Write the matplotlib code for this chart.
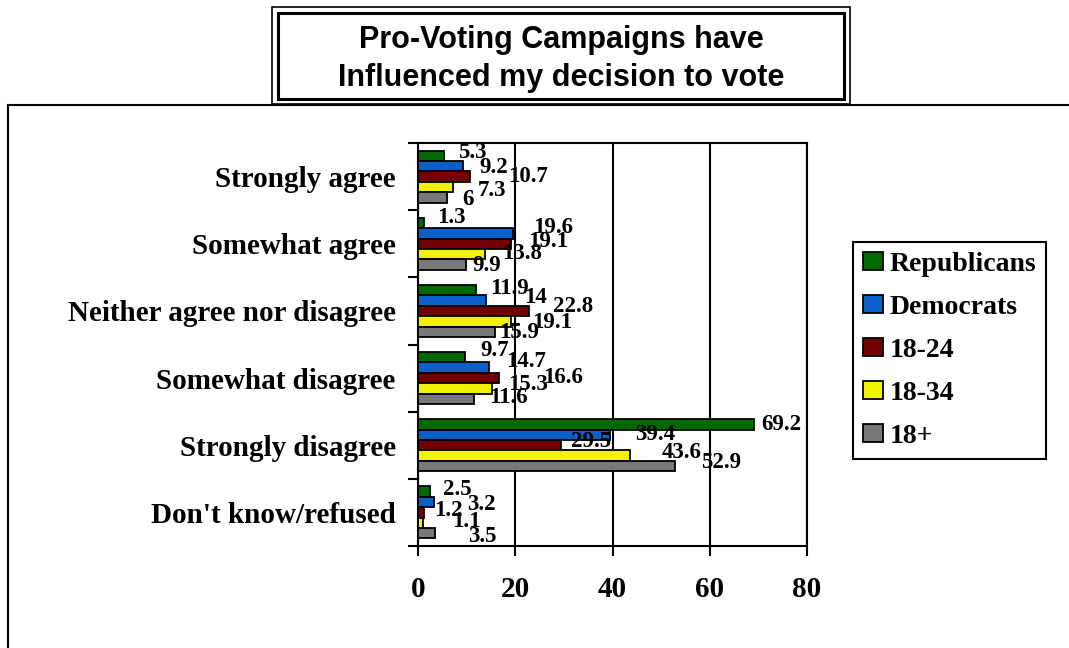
import matplotlib
matplotlib.use('Agg')
import matplotlib.pyplot as plt
from matplotlib.patches import Rectangle, Patch
import numpy as np

# ---------------- data ----------------
categories = ["Strongly agree", "Somewhat agree", "Neither agree nor disagree",
              "Somewhat disagree", "Strongly disagree", "Don't know/refused"]
series_names = ["Republicans", "Democrats", "18-24", "18-34", "18+"]
republicans = [5.3, 1.3, 11.9, 9.7, 69.2, 2.5]
democrats = [9.2, 19.6, 14, 14.7, 39.4, 3.2]
age_18_24 = [10.7, 19.1, 22.8, 16.6, 29.5, 1.2]
age_18_34 = [7.3, 13.8, 19.1, 15.3, 43.6, 1.1]
age_18_plus = [6, 9.9, 15.9, 11.6, 52.9, 3.5]
x_ticks = [0, 20, 40, 60, 80]
title = "Pro-Voting Campaigns have\nInfluenced my decision to vote"

# ---------------- style ----------------
colors = ['#006a00', '#0a5fc8', '#720000', '#f2f200', '#787878']
# label offsets in pixels (dx to the right of bar end, dy downward), [category][series]
label_dx = [[14, 17, 38, 24, 15], [13, 20, 17, 17, 6], [14, 38, 24, 21, 4],
            [15, 17, 44, 16, 15], [7, 26, 10, 32, 26], [13, 34, 10, 29, 33]]
label_dy = [[-1, 3, 2, 6, 4], [-3, -4, 0, 1, 3], [0, -1, -2, 3, 3],
            [-5, -4, 1, -2, 1], [2, 2, -2, -1, -1], [0, 5, 0, 1, 5]]

W, H = 1069, 648
fig = plt.figure(figsize=(W / 100, H / 100), dpi=100)
fig.patch.set_facecolor('white')


def fx(px):
    return px / W


def fy(py):
    return 1 - py / H


serif = 'Liberation Serif'
sans = 'Liberation Sans'

# outer chart frame (clipped by figure edges)
fig.add_artist(Rectangle((fx(8), fy(760)), fx(1200) - fx(8), fy(105) - fy(760),
                         transform=fig.transFigure, fill=False, lw=1.5, ec='black'))

# axes
ax = fig.add_axes([fx(418), fy(546), fx(807) - fx(418), (546 - 143) / H])
series = [republicans, democrats, age_18_24, age_18_34, age_18_plus]
h = 0.155
ypos = np.arange(len(categories))
for i, vals in enumerate(series):
    ax.barh(ypos + (i - 2) * h, vals, height=h, color=colors[i],
            edgecolor='black', linewidth=1.3, zorder=3)
    for j, v in enumerate(vals):
        ax.annotate(f"{v:g}", xy=(v, j + (i - 2) * h),
                    xytext=(label_dx[j][i] * 0.72, -label_dy[j][i] * 0.72 + 1.5),
                    textcoords='offset points', ha='left', va='center',
                    fontsize=16.5, fontweight='bold', family=serif,
                    annotation_clip=False, zorder=5)

ax.set_xlim(0, 80)
ax.set_ylim(len(categories) - 0.5, -0.5)
ax.set_xticks(x_ticks)
ax.set_xticklabels([str(t) for t in x_ticks], fontsize=21, fontweight='bold', family=serif)
ax.set_yticks(np.arange(-0.5, len(categories), 1))
ax.set_yticklabels([])
ax.set_yticks(ypos, minor=True)
ax.set_yticklabels(categories, minor=True, fontsize=21, fontweight='bold', family=serif)
ax.tick_params(axis='y', which='major', length=7.5, width=1.5, direction='out')
ax.tick_params(axis='y', which='minor', length=0, pad=16)
ax.tick_params(axis='x', which='major', length=7.5, width=1.5, direction='out', pad=14)
ax.xaxis.grid(True, color='black', lw=1.5, zorder=0)
ax.set_axisbelow(True)
for s in ax.spines.values():
    s.set_linewidth(1.5)
    s.set_color('black')

# legend
handles = [Patch(facecolor=c, edgecolor='black', linewidth=1.3) for c in colors]
leg = fig.legend(handles, series_names, loc='upper left',
                 bbox_to_anchor=(fx(853), fy(242)), bbox_transform=fig.transFigure,
                 borderaxespad=0, prop=dict(family=serif, weight='bold', size=20),
                 handlelength=0.72, handleheight=0.6, handletextpad=0.25,
                 labelspacing=0.65, borderpad=0.35, fancybox=False,
                 edgecolor='black', framealpha=1)
leg.get_frame().set_linewidth(1.5)

# title box (double border)
fig.add_artist(Rectangle((fx(272), fy(104)), fx(850) - fx(272), fy(7) - fy(104),
                         transform=fig.transFigure, facecolor='white', ec='black', lw=1.2))
fig.add_artist(Rectangle((fx(278), fy(99)), fx(844) - fx(278), fy(13) - fy(99),
                         transform=fig.transFigure, fill=False, ec='black', lw=2.2))
fig.text(fx(561), fy(59), title, ha='center', va='center', fontsize=22,
         fontweight='bold', family=sans, linespacing=1.32)

fig.savefig('out.png', dpi=100, facecolor='white')
